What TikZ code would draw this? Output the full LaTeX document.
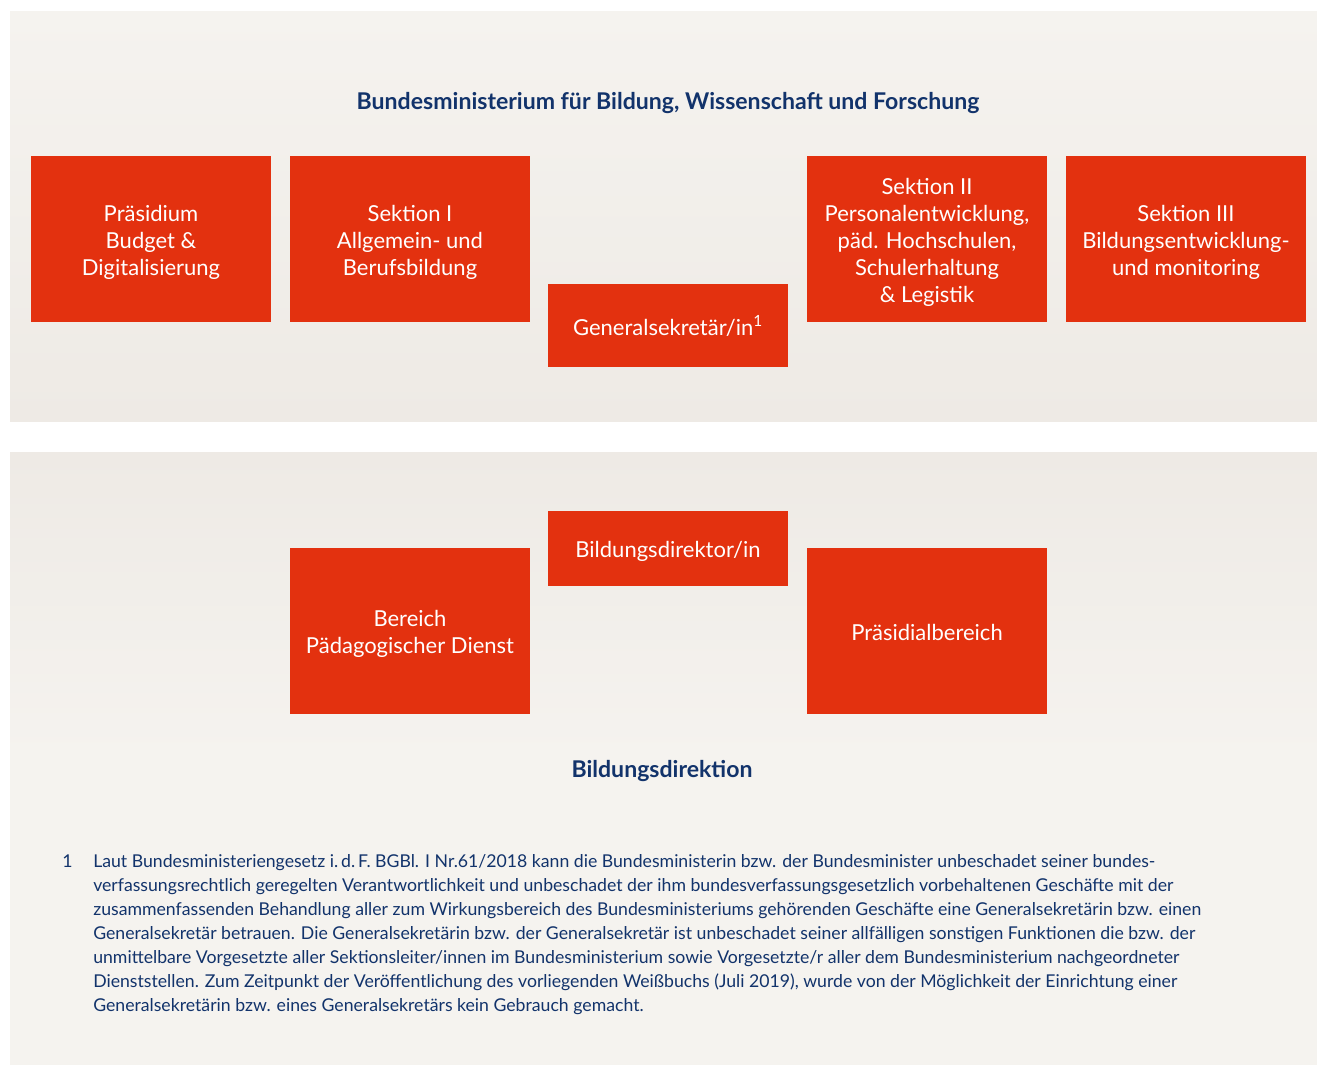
\documentclass[tikz,border=0pt]{standalone}
\usepackage{fontspec}
\setmainfont{Lato}
\definecolor{boxred}{HTML}{E3310F}
\definecolor{navy}{HTML}{12336B}
\definecolor{bgtop}{HTML}{F5F3EF}
\definecolor{bgbot}{HTML}{EEEAE5}
\newcommand{\bxt}[1]{\raisebox{-3pt}[\height][\depth]{\begin{tabular}{@{}c@{}}#1\end{tabular}}}
\begin{document}
\begin{tikzpicture}[x=0.75pt,y=-0.75pt,
  orgbox/.style={fill=boxred,draw=none,text=white,align=center,inner sep=0pt,
    font=\fontsize{16.5}{20.25}\selectfont},
  heading/.style={text=navy,font=\bfseries\fontsize{17.3}{20}\selectfont,anchor=base},
  foot/.style={text=navy,font=\fontsize{13.25}{18}\selectfont,anchor=base west,inner sep=0pt}]
\useasboundingbox (0,0) rectangle (1317,1065);
\fill[white] (0,0) rectangle (1317,1065);
\shade[top color=bgtop,bottom color=bgbot] (10,11) rectangle (1317,421);
\shade[top color=bgbot,bottom color=bgtop,middle color=bgtop] (10,452) rectangle (1317,1064);
\fill[bgtop] (10,800) rectangle (1317,1064);
\node[heading] (title) at (668,109.5) {Bundesministerium für Bildung, Wissenschaft und Forschung};
\node[orgbox,minimum width=180pt,minimum height=124.5pt] (praes) at (151,239) {\bxt{Präsidium\\Budget \&\\Digitalisierung}};
\node[orgbox,minimum width=180pt,minimum height=124.5pt] (sek1) at (410,239) {\bxt{Sektion I\\Allgemein- und\\Berufsbildung}};
\node[orgbox,minimum width=180pt,minimum height=62.25pt] (gen) at (668,325.5) {\bxt{Generalsekretär/in\textsuperscript{1}}};
\node[orgbox,minimum width=180pt,minimum height=124.5pt] (sek2) at (927,239) {\bxt{Sektion II\\Personalentwicklung,\\päd. Hochschulen,\\Schulerhaltung\\\& Legistik}};
\node[orgbox,minimum width=180pt,minimum height=124.5pt] (sek3) at (1186,239) {\bxt{Sektion III\\Bildungsentwicklung-\\und monitoring}};
\node[orgbox,minimum width=180pt,minimum height=56.25pt] (bdir) at (668,548.5) {\bxt{Bildungsdirektor/in}};
\node[orgbox,minimum width=180pt,minimum height=124.5pt] (ber) at (410,631) {\bxt{Bereich\\Pädagogischer Dienst}};
\node[orgbox,minimum width=180pt,minimum height=124.5pt] (praesb) at (927,631) {\bxt{Präsidialbereich}};
\node[heading] (bd) at (662,777) {Bildungsdirektion};
\node[foot] (fn) at (62,867) {1};
\node[foot] (fl1) at (93,867) {Laut Bundesministeriengesetz i.\,d.\,F. BGBl. I Nr.61/2018 kann die Bundesministerin bzw. der Bundesminister unbeschadet seiner bundes-};
\node[foot] (fl2) at (93,891) {verfassungsrechtlich geregelten Verantwortlichkeit und unbeschadet der ihm bundesverfassungsgesetzlich vorbehaltenen Geschäfte mit der};
\node[foot] (fl3) at (93,915) {zusammenfassenden Behandlung aller zum Wirkungsbereich des Bundesministeriums gehörenden Geschäfte eine Generalsekretärin bzw. einen};
\node[foot] (fl4) at (93,939) {Generalsekretär betrauen. Die Generalsekretärin bzw. der Generalsekretär ist unbeschadet seiner allfälligen sonstigen Funktionen die bzw. der};
\node[foot] (fl5) at (93,963) {unmittelbare Vorgesetzte aller Sektionsleiter/innen im Bundesministerium sowie Vorgesetzte/r aller dem Bundesministerium nachgeordneter};
\node[foot] (fl6) at (93,987) {Dienststellen. Zum Zeitpunkt der Veröffentlichung des vorliegenden Weißbuchs (Juli 2019), wurde von der Möglichkeit der Einrichtung einer};
\node[foot] (fl7) at (93,1011) {Generalsekretärin bzw. eines Generalsekretärs kein Gebrauch gemacht.};
\end{tikzpicture}
\end{document}
